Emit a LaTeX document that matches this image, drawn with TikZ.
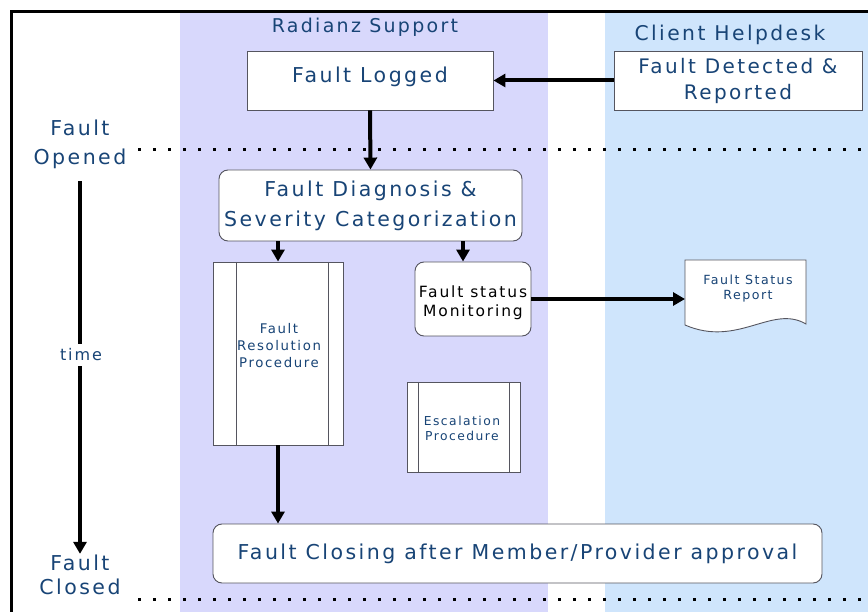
\documentclass[tikz,border=0pt]{standalone}
\usepackage{fontspec}
\setmainfont{DejaVu Sans}[LetterSpace=12.0]
\usetikzlibrary{arrows.meta}
\definecolor{textblue}{RGB}{24,68,118}
\definecolor{laneA}{RGB}{216,216,252}
\definecolor{laneB}{RGB}{207,229,252}
\definecolor{edge}{RGB}{85,85,95}
\tikzset{
  box/.style={draw=edge, line width=0.9pt, fill=white, text=textblue, align=center, inner sep=0pt},
  rbox/.style={box, rounded corners=9pt},
  lbl/.style={text=textblue, align=center, inner sep=1pt},
  arr/.style={line width=4pt, -{Triangle[length=12pt,width=13pt]}},
  dotline/.style={line width=3pt, dash pattern=on 3pt off 12pt},
  big/.style={font=\fontsize{20.5}{27}\selectfont},
}
\begin{document}
\begin{tikzpicture}[x=1pt,y=-1pt]
\useasboundingbox (0,0) rectangle (868,612);
% swim lanes
\fill[laneA] (180,13) rectangle (548,612);
\fill[laneB] (605,13) rectangle (868,612);
% outer frame
\draw[line width=3.5pt] (11.5,612) -- (11.5,11.5) -- (868,11.5);
% lane titles
\node[lbl, font=\fontsize{19}{22}\selectfont] (tA) at (365,27) {Radianz Support};
\node[lbl, font=\fontsize{20.3}{22}\selectfont] (tB) at (730,35) {Client Helpdesk};
% time markers
\draw[dotline] (138,150) -- (868,150);
\draw[dotline] (138,599) -- (868,599);
% boxes
\node[box, big, minimum width=246pt, minimum height=59pt, text depth=11pt] (fl) at (370,80.5) {Fault Logged};
\node[box, font=\fontsize{20}{26}\selectfont, minimum width=248pt, minimum height=59pt] (fdr) at (738,80.5) {Fault Detected \&\\Reported};
\node[rbox, font=\fontsize{20.5}{30}\selectfont, minimum width=303pt, minimum height=71pt] (fd) at (370.5,205.5) {Fault Diagnosis \&\\Severity Categorization};
\node[box, minimum width=130pt, minimum height=183pt] (frp) at (278,353.5) {};
\draw[edge, line width=0.9pt] (236,262) -- (236,445) (328,262) -- (328,445);
\node[lbl, font=\fontsize{13.3}{17}\selectfont] (frpt) at (279,346) {Fault\\Resolution\\Procedure};
\node[rbox, font=\fontsize{15.5}{19}\selectfont, text=black, minimum width=116pt, minimum height=74pt, text height=38pt] (fsm) at (473,299) {Fault status\\Monitoring};
\node[box, minimum width=113pt, minimum height=90pt] (esc) at (463.5,427) {};
\draw[edge, line width=0.9pt] (418,382) -- (418,472) (509,382) -- (509,472);
\node[lbl, font=\fontsize{12.3}{15}\selectfont] (esct) at (462,428) {Escalation\\Procedure};
\node[rbox, big, minimum width=609pt, minimum height=59pt] (fc) at (517.5,553.5) {Fault Closing after Member/Provider approval};
% report document
\draw[edge, line width=0.9pt, fill=white] (685,260) -- (806,260) -- (806,324)
  .. controls (772,304) and (738,348) .. (685,325) -- cycle;
\coordinate (repin) at (685,297);
\node[lbl, font=\fontsize{12.6}{15}\selectfont] (rep) at (748,289) {Fault Status\\Report};
% left time axis
\node[lbl, font=\fontsize{20.5}{29}\selectfont] (fo) at (80,144.5) {Fault\\Opened};
\node[lbl, font=\fontsize{20.5}{24}\selectfont] (fcl) at (80,575) {Fault\\Closed};
\draw[arr] ([yshift=-11pt]fo.south) -- (fcl.north);
\node[lbl, font=\fontsize{16}{19}\selectfont, fill=white, inner sep=5pt] (tm) at (81,355) {time};
% flow
\draw[arr] (fdr.west) -- (fl.east);
\draw[arr] (fl.south) -- (fd.north);
\draw[arr] (frp.north |- fd.south) -- (frp.north);
\draw[arr] ([xshift=-10pt]fsm.north |- fd.south) -- ([xshift=-10pt]fsm.north);
\draw[arr] (fsm.east) -- (repin |- fsm.east);
\draw[arr] (frp.south) -- (fc.north -| frp.south);
\end{tikzpicture}
\end{document}
